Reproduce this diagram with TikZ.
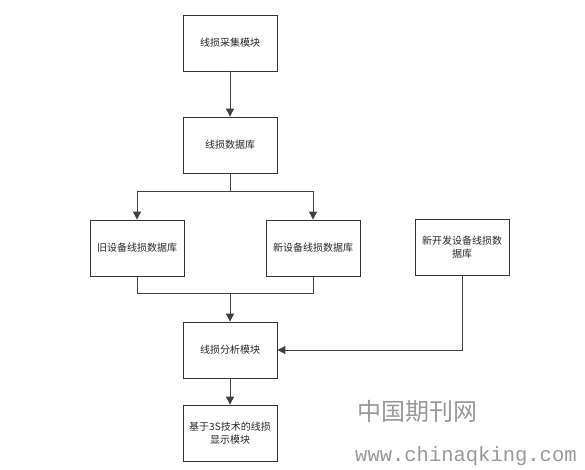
\documentclass[tikz,border=0pt]{standalone}
\usepackage{fontspec}
\setmainfont{Liberation Sans}
\newfontfamily\cjk{Noto Sans CJK SC}
\newfontfamily\wmmono{Liberation Mono}
\usetikzlibrary{arrows.meta}
\begin{document}
\begin{tikzpicture}[x=1pt,y=-1pt,
  blk/.style={draw=black!80,line width=0.8pt,minimum width=94pt,minimum height=56pt,align=center,inner sep=2pt,font=\cjk\fontsize{10}{13.5}\selectfont,text=black!85},
  conn/.style={draw=black!75,line width=0.9pt},
  arr/.style={conn,-{Triangle[width=8pt,length=8pt]}},
  wm/.style={text=black!40}]
\useasboundingbox (0,0) rectangle (585,469);
\node[blk] (acq) at (230,43) {线损采集模块};
\node[blk] (db) at (230,145) {线损数据库};
\node[blk] (old) at (137,248) {旧设备线损数据库};
\node[blk] (new) at (313,248) {新设备线损数据库};
\node[blk] (dev) at (462,247) {新开发设备线损数\\据库};
\node[blk] (ana) at (230,350) {线损分析模块};
\node[blk] (disp) at (230,433) {基于3S技术的线损\\显示模块};
\coordinate (split) at (230,191);
\coordinate (merge) at (230,293);
\draw[arr] (acq) -- (db);
\draw[conn] (db) -- (split);
\draw[arr] (split) -| (old);
\draw[arr] (split) -| (new);
\draw[conn] (old) |- (merge);
\draw[conn] (new) |- (merge);
\draw[arr] (merge) -- (ana);
\draw[arr] (dev.south) |- (ana.east);
\draw[arr] (ana) -- (disp);
\node[wm,font=\cjk\fontsize{24}{26}\selectfont,anchor=west,inner sep=0pt] (wm1) at (357,411) {中国期刊网};
\node[wm,font=\wmmono\fontsize{20.5}{22}\selectfont,anchor=west,inner sep=0pt] (wm2) at (355,456) {www.chinaqking.com};
\end{tikzpicture}
\end{document}
